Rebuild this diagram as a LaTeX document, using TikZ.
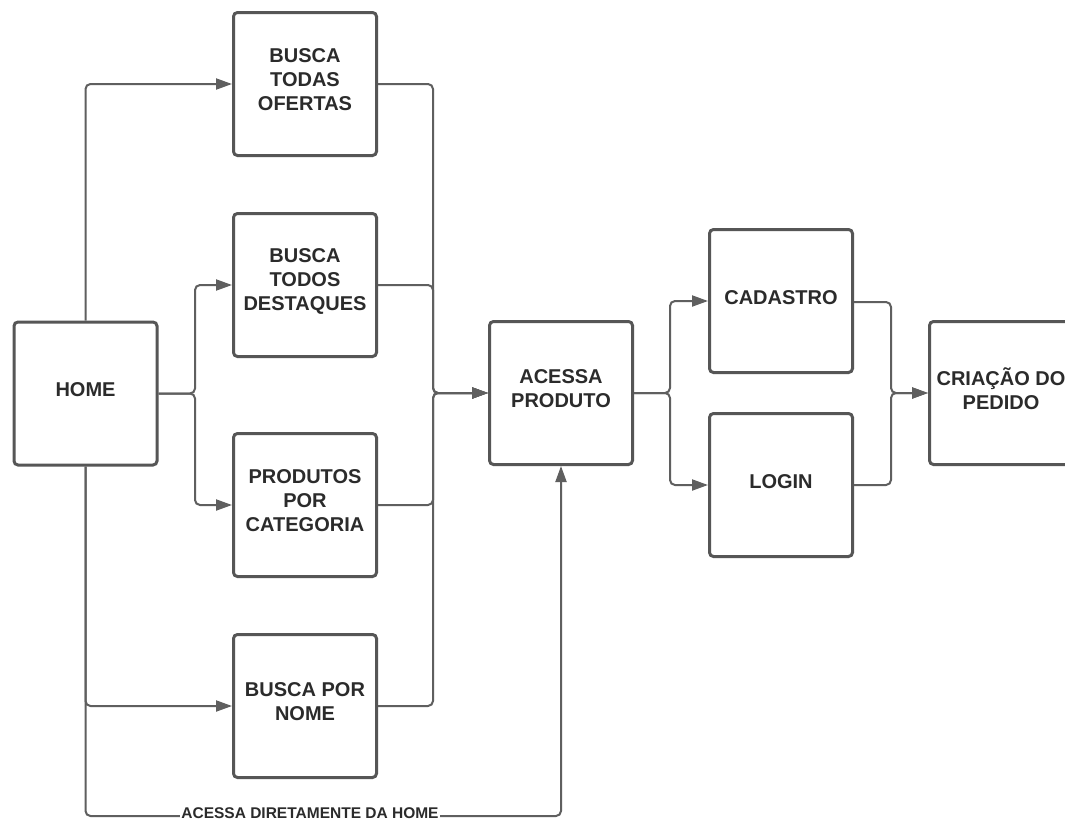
\documentclass[tikz,border=0pt]{standalone}
\usepackage{fontspec}
\setmainfont{Liberation Sans}
\usetikzlibrary{arrows.meta}
\definecolor{linec}{HTML}{5F5F5F}
\definecolor{boxc}{HTML}{565656}
\definecolor{txtc}{HTML}{2B2B2B}
\begin{document}
\begin{tikzpicture}[x=1pt,y=-1pt,
 box/.style={draw=boxc, line width=3pt, rounded corners=4pt, minimum width=143pt, minimum height=143pt, inner sep=0pt},
 txt/.style={align=center, text=txtc, inner sep=0pt, font=\fontsize{20}{24}\selectfont\bfseries},
 conn/.style={draw=linec, line width=2pt, rounded corners=5pt},
 arr/.style={conn, -{Triangle[length=16pt,width=11pt]}},
 lbl/.style={fill=white, inner xsep=1pt, inner ysep=0pt, text=txtc, font=\fontsize{15.5}{18}\selectfont\bfseries},
]
\useasboundingbox (0,0) rectangle (1065,822);
\fill[white] (0,0) rectangle (1065,822);

% boxes
\node[box] (home) at (85.5,393.5) {};
\node[box] (ofertas) at (305,84) {};
\node[box] (destaques) at (305,285) {};
\node[box] (categoria) at (305,505) {};
\node[box] (nome) at (305,706) {};
\node[box] (acessa) at (561,393) {};
\node[box] (cadastro) at (781,301) {};
\node[box] (login) at (781,485) {};
\node[box] (pedido) at (1001,393) {};

% texts
\node[txt] (homeT) at ([yshift=3.5pt]home.center) {HOME};
\node[txt] (ofertasT) at ([yshift=4pt]ofertas.center) {BUSCA\\TODAS\\OFERTAS};
\node[txt] (destaquesT) at ([yshift=4pt]destaques.center) {BUSCA\\TODOS\\DESTAQUES};
\node[txt] (categoriaT) at ([yshift=4pt]categoria.center) {PRODUTOS\\POR\\CATEGORIA};
\node[txt] (nomeT) at ([yshift=4pt]nome.center) {BUSCA POR\\NOME};
\node[txt] (acessaT) at ([yshift=4pt]acessa.center) {ACESSA\\PRODUTO};
\node[txt] (cadastroT) at ([yshift=3pt]cadastro.center) {CADASTRO};
\node[txt] (loginT) at ([yshift=3pt]login.center) {LOGIN};
\node[txt] (pedidoT) at ([yshift=4pt]pedido.center) {CRIAÇÃO DO\\PEDIDO};

% junction coordinates
\coordinate (s1) at (195,393.5);
\coordinate (bl) at (85.5,816);
\coordinate (m1) at (433,393);
\coordinate (s2) at (670,393);
\coordinate (m2) at (891,393);

% HOME outputs
\draw[arr] (home.north) |- (ofertas.west);
\draw[arr] (home.east) -- (s1) |- (destaques.west);
\draw[arr] (home.east) -- (s1) |- (categoria.west);
\draw[arr] (home.south) |- (nome.west);
\draw[arr] (home.south) -- (bl) -| (acessa.south);
\node[lbl] (lab) at (310,813) {ACESSA DIRETAMENTE DA HOME};

% merge into ACESSA PRODUTO
\draw[arr] (ofertas.east) -| (m1) -- (acessa.west);
\draw[arr] (destaques.east) -| (m1) -- (acessa.west);
\draw[arr] (categoria.east) -| (m1) -- (acessa.west);
\draw[arr] (nome.east) -| (m1) -- (acessa.west);

% ACESSA PRODUTO outputs
\draw[arr] (acessa.east) -- (s2) |- (cadastro.west);
\draw[arr] (acessa.east) -- (s2) |- (login.west);

% merge into CRIACAO DO PEDIDO
\draw[arr] ([yshift=-1pt]cadastro.east) -| (m2) -- (pedido.west);
\draw[arr] (login.east) -| (m2) -- (pedido.west);
\end{tikzpicture}
\end{document}
